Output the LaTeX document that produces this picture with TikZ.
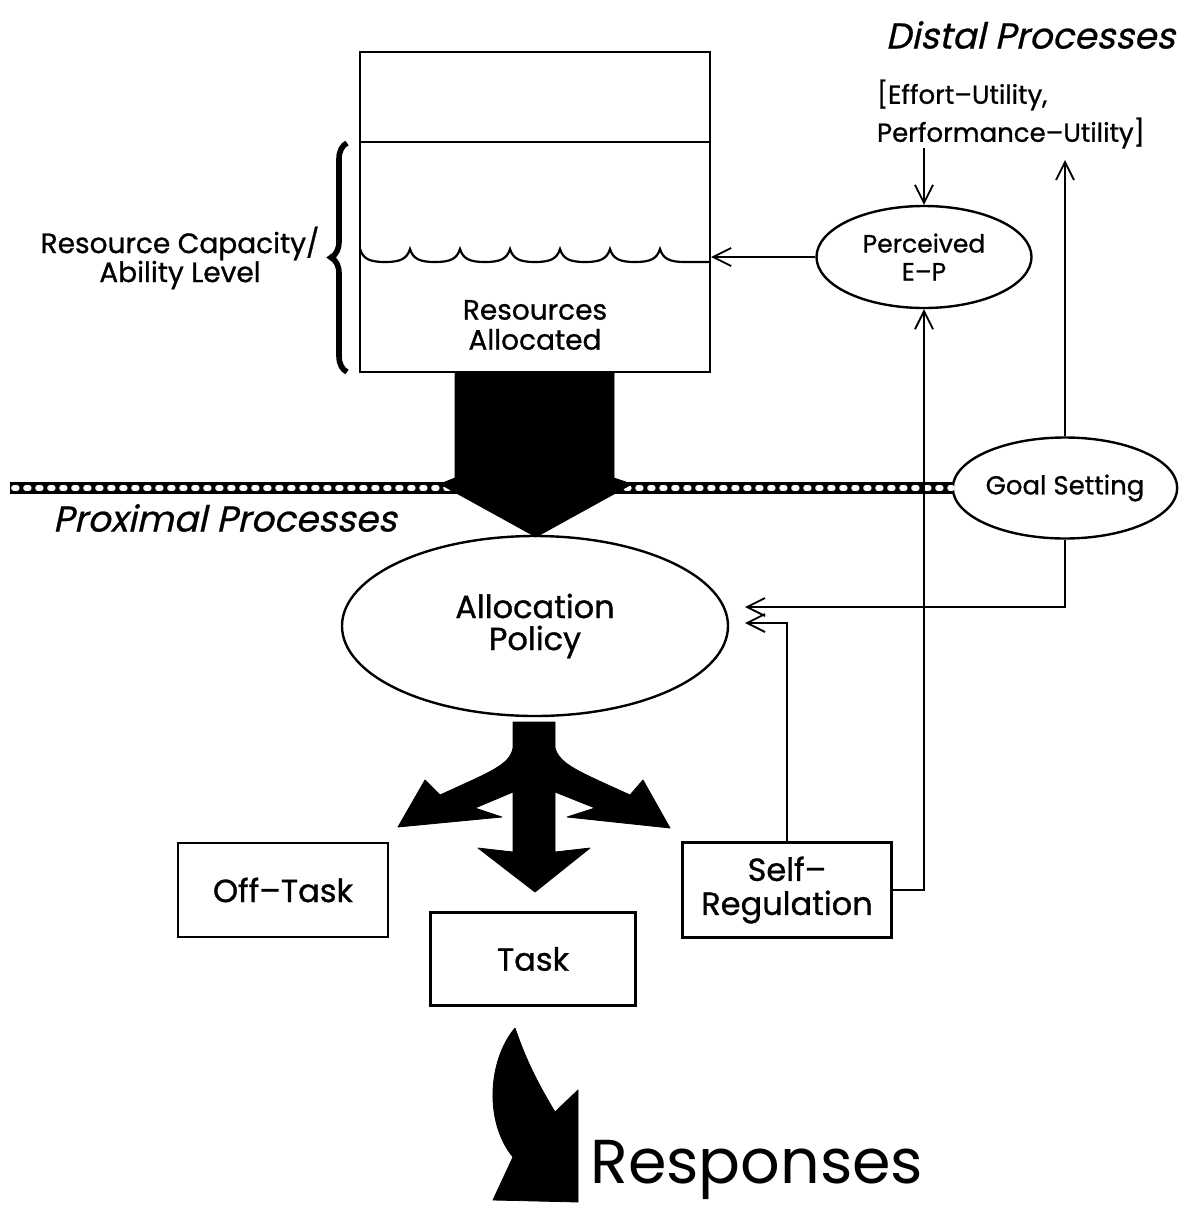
\documentclass[tikz,border=0pt]{standalone}
\usepackage{fontspec}
\setmainfont{Poppins}[FakeBold=0.9]
\newfontfamily\slantfont[FakeSlant=0.22,FakeBold=0.6]{Poppins}
\newfontfamily\thinfont{Poppins}
\usetikzlibrary{positioning,shapes.geometric,arrows.meta,decorations.pathreplacing}

\tikzset{
  box/.style={draw,line width=1.2pt,inner sep=0pt,align=center},
  oval/.style={draw,ellipse,line width=1.2pt,inner sep=0pt,align=center},
  arr/.style={line width=0.9pt,-{Straight Barb[length=9pt,width=9pt,line width=0.9pt]}},
  bigarrow/.style={fill=black,draw=black,line join=round}
}

\begin{document}
\begin{tikzpicture}[x=0.5pt,y=-0.5pt]
\useasboundingbox (0,0) rectangle (1190,1205);
% resource tank
\node[box,minimum width=175pt,minimum height=160pt](tank)at(535,212){};
\draw[line width=1.2pt](360,142)--(710,142);
\draw[line width=1.1pt](360,249)
  \foreach \i in {0,...,5}{ .. controls (360+50*\i+3,259) and (360+50*\i+10,262) .. (360+50*\i+25,262)
  .. controls (360+50*\i+40,262) and (360+50*\i+47,259) .. (360+50*\i+50,249)}
  .. controls (663,259) and (670,262) .. (685,262) -- (710,262);
\node[align=center,font=\fontsize{14}{15}\selectfont](alloc0)at(535,325){Resources\\Allocated};
\draw[line width=2.8pt,decorate,decoration={brace,amplitude=8pt}](347,372)--(347,143);
\node[align=center,font=\fontsize{14}{14.5}\selectfont](cap)at(180,258){Resource Capacity/\\Ability Level};

% band between distal and proximal
\node[oval,minimum width=107.5pt,minimum height=50.5pt,font=\fontsize{13}{14}\selectfont](goal)at(1065,488){Goal Setting};
\draw[line width=6.2pt](10,488)--(goal.west);
\draw[white,line width=2.8pt,dash pattern=on 1.4pt off 4.6pt,line cap=round](14,488)--(952,488);
\fill[bigarrow](455,372)--(455,478)--(440,484)--(536,537)--(632,484)--(614,478)--(614,372)--cycle;

% distal side
\node[anchor=east,font=\slantfont\fontsize{18}{20}\selectfont](distal)at(1182,35){Distal Processes};
\node[anchor=west,align=left,font=\fontsize{13}{19}\selectfont](util)at(870,114){[Effort--Utility,\\Performance--Utility]};
\node[oval,minimum width=107.5pt,minimum height=51pt,font=\fontsize{12.5}{14}\selectfont](perc)at(924,257){Perceived\\E--P};
\coordinate(effu)at(924,148);
\coordinate(utilin)at(1065,160);
\draw[arr](effu)--(perc.north);
\draw[arr](goal.north)--(utilin);
\draw[arr](perc.west)--(perc.west-|tank.east);

% proximal side
\node[anchor=west,font=\slantfont\fontsize{18}{20}\selectfont](prox)at(46,518){Proximal Processes};
\node[oval,minimum width=193pt,minimum height=90pt,font=\fontsize{16}{16}\selectfont](policy)at(535,626){Allocation\\Policy};
\node[box,minimum width=105pt,minimum height=47pt,font=\fontsize{16}{17}\selectfont](offtask)at(283,890){Off--Task};
\node[box,minimum width=102.5pt,minimum height=46.5pt,font=\fontsize{16}{17}\selectfont](task)at(533,959){Task};
\node[box,minimum width=104.5pt,minimum height=47.5pt,font=\fontsize{16}{17}\selectfont](selfreg)at(787,890){Self--\\Regulation};
\coordinate(in1)at(745,607);
\coordinate(in2)at(745,623);
\draw[arr](goal.south)|-(in1);
\draw[arr](selfreg.north)|-(in2);
\draw[arr](selfreg.east)-|(perc.south);

% three way arrow
\fill[bigarrow](513,722)--(513,748)..controls(510,765)and(490,772)..(440,795)--(425,780)--(398,827)
  --(502,817)--(475,808)--(513,792)--(513,852)--(478,848)--(535,892)--(590,848)--(555,852)
  --(555,792)--(595,808)--(567,817)--(670,828)--(643,780)--(630,795)
  ..controls(580,772)and(560,765)..(555,748)--(555,722)--cycle;

% responses
\fill[bigarrow](515,1028)..controls(488,1060)and(484,1122)..(513,1157)--(493,1200)--(578,1202)
  --(578,1090)--(555,1112)..controls(537,1082)and(526,1060)..(515,1028);
\node[anchor=base west,inner sep=0pt,font=\thinfont\fontsize{31}{32}\selectfont](resp)at(590,1183){Responses};
\end{tikzpicture}
\end{document}
